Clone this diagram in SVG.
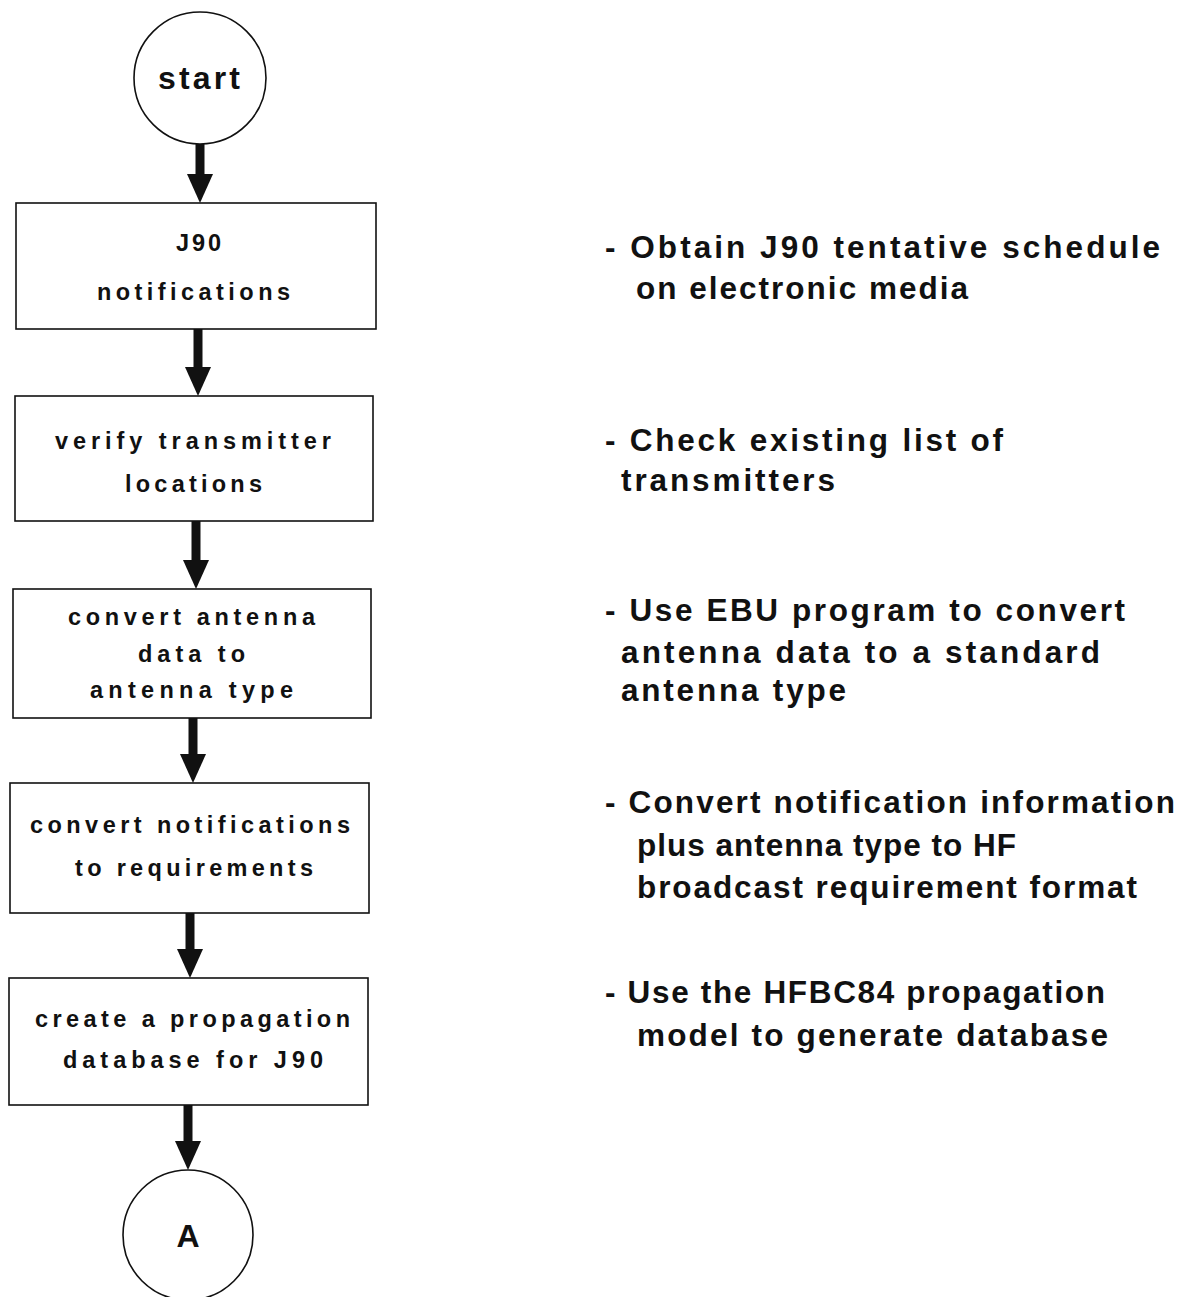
<svg xmlns="http://www.w3.org/2000/svg" width="1185" height="1297" viewBox="0 0 1185 1297">
  <style>
    .shape { fill: #ffffff; stroke: #111111; stroke-width: 1.6; }
    .lbl { font-family: "Liberation Sans", Arial, Helvetica, sans-serif; font-weight: bold; fill: #111111; }
    .box { font-size: 23.5px; text-anchor: start; }
    .term { font-size: 32px; text-anchor: middle; }
    .note { font-size: 31.5px; }
    .flow { stroke: #111111; stroke-width: 9; fill: none; }
  </style>
  <defs>
    <marker id="head" markerUnits="userSpaceOnUse" markerWidth="29" markerHeight="26" viewBox="0 0 29 26" refX="1" refY="13" orient="auto">
      <path d="M0,0 L29,13 L0,26 Z" fill="#111111"/>
    </marker>
  </defs>
  <rect width="1185" height="1297" fill="#ffffff"/>

  <!-- connectors between the flow steps -->
  <g id="connectors">
    <line class="flow" x1="200" y1="144" x2="200" y2="175" marker-end="url(#head)"/>
    <line class="flow" x1="198" y1="329" x2="198" y2="368" marker-end="url(#head)"/>
    <line class="flow" x1="196" y1="521" x2="196" y2="561" marker-end="url(#head)"/>
    <line class="flow" x1="193" y1="718" x2="193" y2="755" marker-end="url(#head)"/>
    <line class="flow" x1="190" y1="913" x2="190" y2="950" marker-end="url(#head)"/>
    <line class="flow" x1="188" y1="1105" x2="188" y2="1142" marker-end="url(#head)"/>
  </g>

  <g id="start">
    <circle class="shape" cx="200" cy="78" r="66"/>
    <text class="lbl term" x="199" y="89" textLength="82" lengthAdjust="spacing">start</text>
  </g>

  <g id="step-notifications">
    <rect class="shape" x="16" y="203" width="360" height="126"/>
    <text class="lbl box" x="176" y="251" textLength="45" lengthAdjust="spacing">J90</text>
    <text class="lbl box" x="97" y="300" textLength="193" lengthAdjust="spacing">notifications</text>
  </g>

  <g id="step-verify">
    <rect class="shape" x="15" y="396" width="358" height="125"/>
    <text class="lbl box" x="55" y="449" textLength="276" lengthAdjust="spacing">verify transmitter</text>
    <text class="lbl box" x="125" y="492" textLength="137" lengthAdjust="spacing">locations</text>
  </g>

  <g id="step-antenna">
    <rect class="shape" x="13" y="589" width="358" height="129"/>
    <text class="lbl box" x="68" y="625" textLength="247" lengthAdjust="spacing">convert antenna</text>
    <text class="lbl box" x="138" y="662" textLength="107" lengthAdjust="spacing">data to</text>
    <text class="lbl box" x="90" y="698" textLength="203" lengthAdjust="spacing">antenna type</text>
  </g>

  <g id="step-requirements">
    <rect class="shape" x="10" y="783" width="359" height="130"/>
    <text class="lbl box" x="30" y="833" textLength="320" lengthAdjust="spacing">convert notifications</text>
    <text class="lbl box" x="75" y="876" textLength="238" lengthAdjust="spacing">to requirements</text>
  </g>

  <g id="step-database">
    <rect class="shape" x="9" y="978" width="359" height="127"/>
    <text class="lbl box" x="35" y="1027" textLength="315" lengthAdjust="spacing">create a propagation</text>
    <text class="lbl box" x="63" y="1068" textLength="260" lengthAdjust="spacing">database for J90</text>
  </g>

  <g id="connector-A">
    <circle class="shape" cx="188" cy="1235" r="65"/>
    <text class="lbl term" x="188" y="1247">A</text>
  </g>

  <!-- descriptions beside each step -->
  <g id="notes">
    <text class="lbl note" x="605" y="258" textLength="555" lengthAdjust="spacing">- Obtain J90 tentative schedule</text>
    <text class="lbl note" x="636" y="299" textLength="332" lengthAdjust="spacing">on electronic media</text>

    <text class="lbl note" x="605" y="451" textLength="398" lengthAdjust="spacing">- Check existing list of</text>
    <text class="lbl note" x="621" y="491" textLength="214" lengthAdjust="spacing">transmitters</text>

    <text class="lbl note" x="605" y="621" textLength="520" lengthAdjust="spacing">- Use EBU program to convert</text>
    <text class="lbl note" x="621" y="663" textLength="479" lengthAdjust="spacing">antenna data to a standard</text>
    <text class="lbl note" x="621" y="701" textLength="225" lengthAdjust="spacing">antenna type</text>

    <text class="lbl note" x="605" y="813" textLength="570" lengthAdjust="spacing">- Convert notification information</text>
    <text class="lbl note" x="637" y="856" textLength="379" lengthAdjust="spacing">plus antenna type to HF</text>
    <text class="lbl note" x="637" y="898" textLength="500" lengthAdjust="spacing">broadcast requirement format</text>

    <text class="lbl note" x="605" y="1003" textLength="500" lengthAdjust="spacing">- Use the HFBC84 propagation</text>
    <text class="lbl note" x="637" y="1046" textLength="471" lengthAdjust="spacing">model to generate database</text>
  </g>
</svg>
